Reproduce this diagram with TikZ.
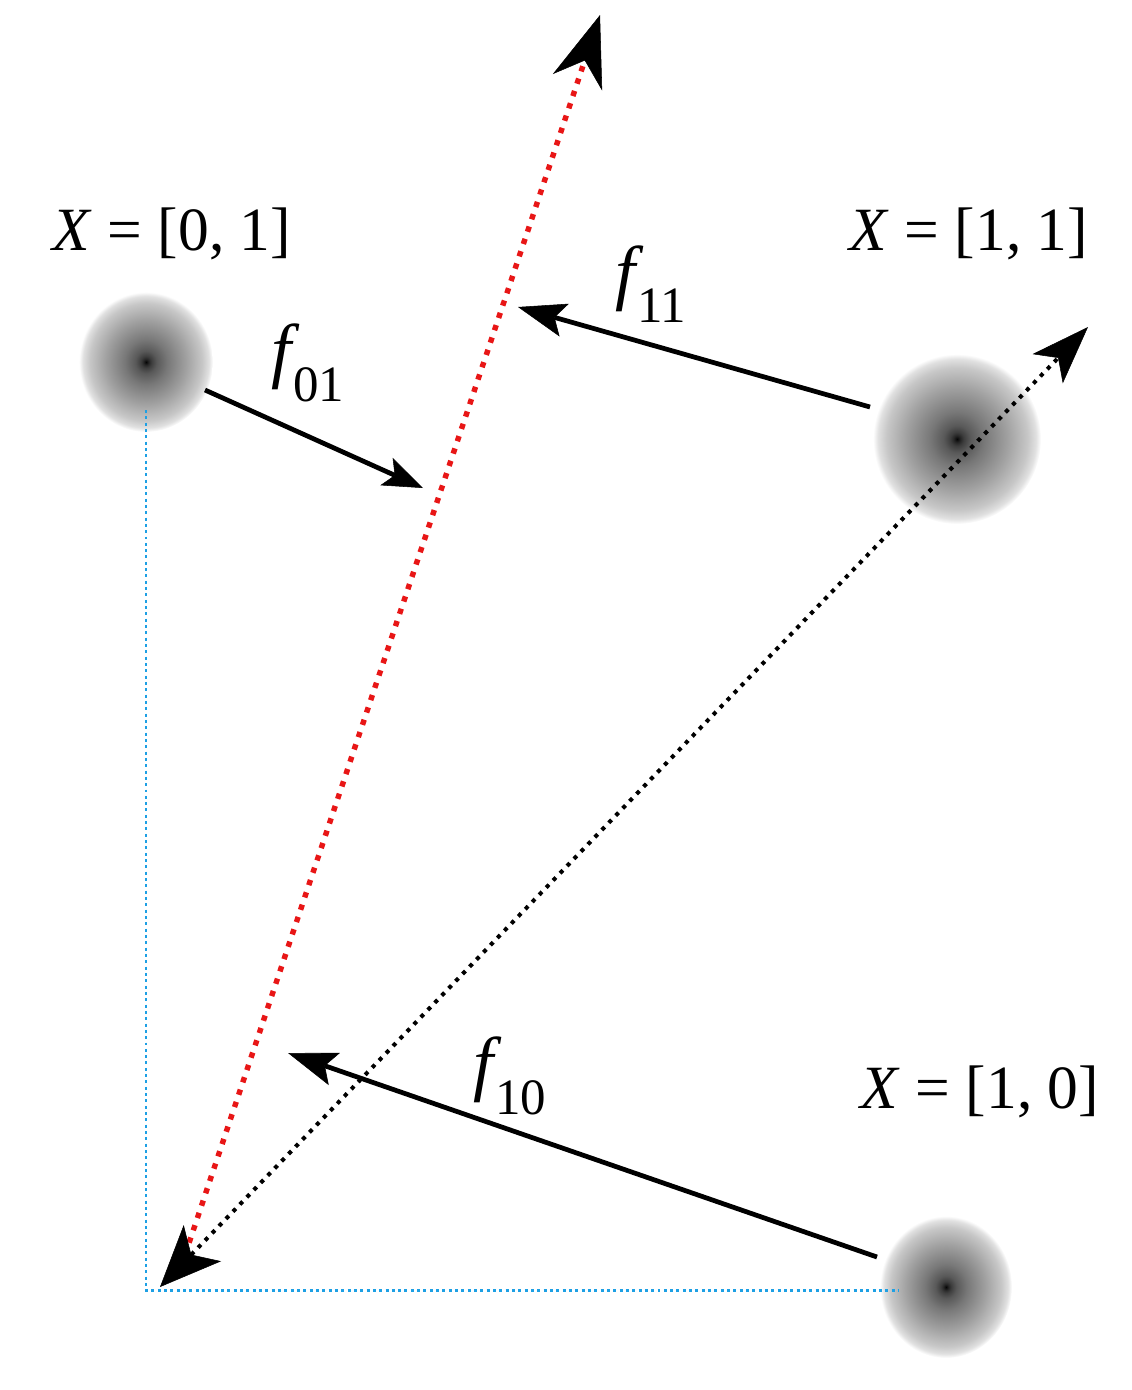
\documentclass[tikz,border=0pt]{standalone}
\usepackage{fontspec}
\setmainfont{Liberation Serif}
\newfontfamily\tms{Liberation Serif}
\usetikzlibrary{arrows.meta,shapes.geometric}
\pgfdeclareradialshading{blobshade}{\pgfpointorigin}{color(0bp)=(black!98); color(1bp)=(black!85); color(2bp)=(black!76); color(4bp)=(black!65); color(8bp)=(black!53); color(15bp)=(black!37); color(21bp)=(black!22); color(23.5bp)=(black!12); color(25bp)=(white); color(50bp)=(white)}
\definecolor{redline}{RGB}{232,22,22}
\definecolor{blueline}{RGB}{30,160,228}
\begin{document}
\begin{tikzpicture}[x=0.02cm,y=-0.02cm,
  blob/.style={ellipse, inner sep=0pt, shade, shading=blobshade},
  bluedots/.style={blueline, line width=1.7pt, dash pattern=on 1.7pt off 1.9pt},
  reddots/.style={redline, line width=3.1pt, dash pattern=on 3.1pt off 4.3pt},
  blackdots/.style={black, line width=2.3pt, dash pattern=on 2.3pt off 3.4pt},
  farrow/.style={black, line width=2.7pt},
  lbl/.style={inner sep=0pt, font=\tms\fontsize{35}{40}\selectfont},
  flbl/.style={inner sep=0pt, font=\tms}
]
\useasboundingbox (0,0) rectangle (1132,1390);
% blobs
\node[blob, minimum width=2.68cm, minimum height=2.8cm] (A) at (146,362) {};
\node[blob, minimum width=3.36cm, minimum height=3.40cm] (B) at (957,439) {};
\node[blob, minimum width=2.64cm, minimum height=2.84cm] (C) at (946,1287) {};
% coordinates
\coordinate (bTop) at (146,410);
\coordinate (bCorner) at (146,1290);
\coordinate (bEnd) at (898,1290);
\coordinate (rStart) at (185,1255);
\coordinate (rTip) at (600,15);
\coordinate (kLow) at (160,1287);
\coordinate (kHigh) at (1088,327);
\coordinate (f01s) at (205,390);
\coordinate (f01e) at (423,488);
\coordinate (f11s) at (870,407);
\coordinate (f11e) at (518,307);
\coordinate (f10s) at (877,1257);
\coordinate (f10e) at (288,1053);
% blue dotted axes
\draw[bluedots] (bTop) -- (bCorner) -- (bEnd);
% red dotted
\draw[reddots, -{Stealth[length=1.42cm,width=1.04cm,inset=0.46cm,color=black,line width=0.3pt]}] (rStart) -- (rTip);
% black dotted
\draw[blackdots, {Stealth[length=1.22cm,width=1.04cm,inset=0.32cm,line width=0.3pt]}-{Stealth[length=1.16cm,width=0.84cm,inset=0.3cm,line width=0.3pt]}] (kLow) -- (kHigh);
% f arrows
\draw[farrow, -{Stealth[length=0.8cm,width=0.6cm,inset=0.18cm,line width=0.3pt]}] (f01s) -- (f01e);
\draw[farrow, -{Stealth[length=0.96cm,width=0.68cm,inset=0.2cm,line width=0.3pt]}] (f11s) -- (f11e);
\draw[farrow, -{Stealth[length=0.98cm,width=0.68cm,inset=0.2cm,line width=0.3pt]}] (f10s) -- (f10e);
% labels
\node[lbl] (tA) at (172,234) {\textit{X} = [0, 1]};
\node[lbl] (tB) at (969,234) {\textit{X} = [1, 1]};
\node[lbl] (tC) at (980,1092) {\textit{X} = [1, 0]};
\node[flbl] (l01) at (308,363) {{\fontsize{41}{44}\selectfont\itshape f}\kern1pt\raisebox{-15pt}{\fontsize{29}{32}\selectfont 01}};
\node[flbl] (l11) at (651,284) {{\fontsize{41}{44}\selectfont\itshape f}\kern1pt\raisebox{-15pt}{\fontsize{29}{32}\selectfont 11}};
\node[flbl] (l10) at (510,1076) {{\fontsize{41}{44}\selectfont\itshape f}\kern1pt\raisebox{-15pt}{\fontsize{29}{32}\selectfont 10}};
\end{tikzpicture}
\end{document}
